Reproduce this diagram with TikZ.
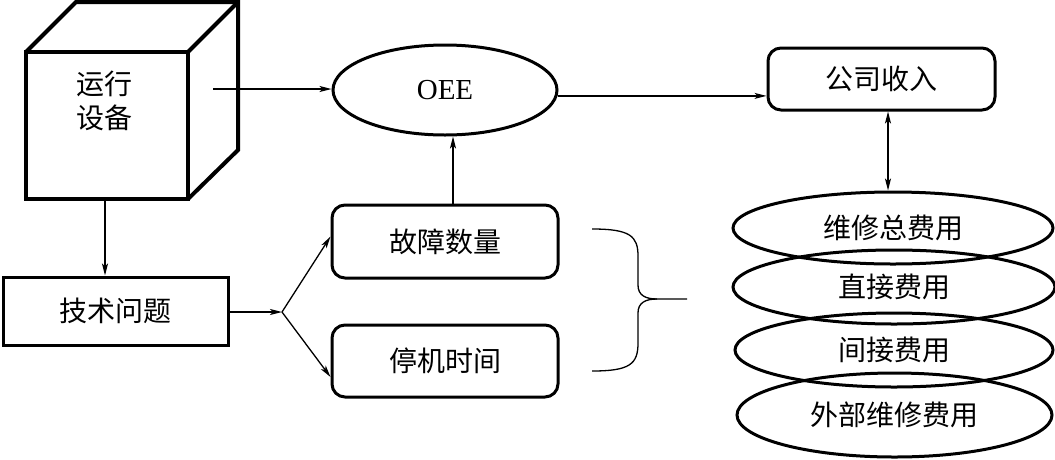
\documentclass[tikz,border=0pt]{standalone}
\usepackage{fontspec}
\setmainfont{Liberation Serif}
\newfontfamily\cjk{Noto Sans CJK SC}
\usetikzlibrary{arrows.meta,shapes.geometric,calc}
\tikzset{
  conn/.style={line width=1.3pt},
  arr/.style={conn,-{Stealth[length=12pt,width=6pt,inset=3pt]}},
  dblarr/.style={conn,{Stealth[length=12pt,width=6pt,inset=3pt]}-{Stealth[length=12pt,width=6pt,inset=3pt]}},
  cjktxt/.style={font=\cjk\fontsize{28}{34}\selectfont},
  sqbox/.style={draw,line width=3pt,rectangle,inner sep=0pt,cjktxt},
  rbox/.style={draw,line width=3pt,rectangle,rounded corners=13pt,inner sep=0pt,cjktxt},
  oval/.style={draw,line width=3pt,ellipse,inner sep=0pt,cjktxt},
  cubeline/.style={line width=4pt,line join=miter}
}
\begin{document}
\begin{tikzpicture}[x=1pt,y=-1pt]
\useasboundingbox (0,0) rectangle (1055,459);
% cube
\draw[cubeline] (26,52) -- (76,2) -- (238,2) -- (238,150) -- (188,199);
\draw[cubeline] (188,52) -- (238,2);
\node[draw,cubeline,rectangle,inner sep=0pt,minimum width=162pt,minimum height=147pt] (cube) at (107,125.5) {};
\node[cjktxt,align=center] (cubetxt) at (104,101) {运行\\设备};
\coordinate (cubeout) at (213,89);
\coordinate (cubedown) at (105,199);
% nodes
\node[sqbox,minimum width=225pt,minimum height=68pt] (tech) at (115.5,311) {技术问题};
\node[draw,line width=3pt,ellipse,inner sep=0pt,minimum width=224pt,minimum height=90pt,font=\fontsize{29}{34}\selectfont] (oee) at (445,90) {OEE};
\node[rbox,minimum width=226pt,minimum height=73pt] (fault) at (445,241.5) {故障数量};
\node[rbox,minimum width=226pt,minimum height=72pt] (down) at (445,361) {停机时间};
\node[rbox,minimum width=227pt,minimum height=62pt] (income) at (881.5,79) {公司收入};
\node[oval,minimum width=320pt,minimum height=72pt] (c1) at (893,228) {维修总费用};
\node[oval,minimum width=322pt,minimum height=74pt] (c2) at (894,287) {直接费用};
\node[oval,minimum width=318pt,minimum height=74pt] (c3) at (894,350) {间接费用};
\node[oval,minimum width=315pt,minimum height=84pt] (c4) at (894.5,415) {外部维修费用};
\coordinate (junc) at (282,312);
\coordinate (braceend) at (687,299);
% connectors
\draw[arr] (cubeout) -- (cubeout -| oee.west);
\draw[arr] (cubedown) -- (cubedown |- tech.north);
\draw[arr] (tech.east |- junc) -- (junc);
\draw[arr] (junc) -- ($(fault.west)+(0,-5)$);
\draw[arr] (junc) -- ($(down.west)+(0,16)$);
\draw[arr] ($(fault.north)+(8,0)$) -- ($(oee.south)+(8,0)$);
\draw[arr] (oee.-3) -- (oee.-3 -| income.west);
\draw[dblarr] ($(income.south)+(6.5,0)$) -- ($(c1.north)+(-5,0)$);
% brace
\draw[conn] (592,229) .. controls (630,229) and (638,236) .. (638,256) -- (638,285)
  .. controls (638,295) and (645,299) .. (657,299) -- (braceend);
\draw[conn] (657,299) .. controls (645,299) and (638,303) .. (638,313) -- (638,343)
  .. controls (638,364) and (630,371) .. (592,371);
\end{tikzpicture}
\end{document}
